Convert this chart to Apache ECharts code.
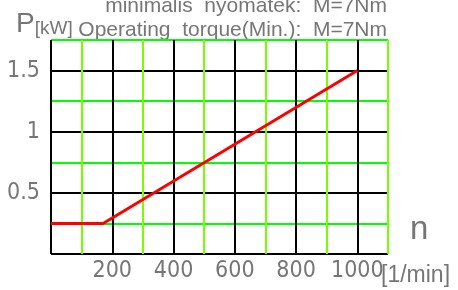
<!DOCTYPE html>
<html><head><meta charset="utf-8">
<script src="https://cdn.jsdelivr.net/npm/echarts@6/dist/echarts.min.js"></script>
<style>html,body{margin:0;padding:0;background:#fff}#c{width:458px;height:290px}</style>
</head><body><div id="c"></div>
<script>
const speedN = [0, 170, 1000];
const powerKW = [0.25, 0.25, 1.5];
const xTickLabels = [200, 400, 600, 800, 1000];
const yTickLabels = [0.5, 1, 1.5];
const titleLines = ['minimális  nyomaték:  M=7Nm', 'Operating  torque(Min.):  M=7Nm'];

const gray = '#767676';
const narrow = '"Liberation Sans Narrow", "DejaVu Sans Condensed", "Liberation Sans", sans-serif';
const chart = echarts.init(document.getElementById('c'));
chart.setOption({
  animation: false,
  backgroundColor: '#fff',
  grid: { left: 51, right: 70, top: 40, bottom: 36 },
  xAxis: {
    type: 'value', min: 0, max: 1100, interval: 100,
    axisLine: { show: false }, axisTick: { show: false },
    splitLine: { show: true, showMinLine: true, showMaxLine: true, lineStyle: { color: ['#000000', '#77ff00'], width: 2 } },
    axisLabel: {
      margin: 6, color: gray, fontSize: 23, fontFamily: narrow,
      formatter: v => xTickLabels.includes(v) ? String(v) : ''
    }
  },
  yAxis: {
    type: 'value', min: 0, max: 1.75, interval: 0.25,
    axisLine: { show: false }, axisTick: { show: false },
    splitLine: { show: true, showMinLine: true, showMaxLine: true, lineStyle: { color: ['#000000', '#00ff00'], width: 2 } },
    axisLabel: {
      margin: 11, color: gray, fontSize: 23, fontFamily: narrow,
      formatter: v => yTickLabels.some(t => Math.abs(t - v) < 1e-9) ? String(v) : ''
    }
  },
  series: [{
    type: 'line', symbol: 'none',
    data: speedN.map((n, i) => [n, powerKW[i]]),
    lineStyle: { color: '#ff0000', width: 3 },
    z: 5
  }],
  graphic: [
    { type: 'text', right: 71, top: -4, style: { text: titleLines[0], fill: gray, fontSize: 21, fontFamily: '"Liberation Sans", sans-serif' } },
    { type: 'text', right: 71, top: 20, style: { text: titleLines[1], fill: gray, fontSize: 21, fontFamily: '"Liberation Sans", sans-serif' } },
    { type: 'text', left: 16, top: 10, style: {
        text: '{p|P}{u|[kW]}', fill: gray,
        rich: { p: { fontSize: 28, fill: gray, fontFamily: '"Liberation Sans", sans-serif', verticalAlign: 'bottom' },
                u: { fontSize: 19, fill: gray, fontFamily: '"Liberation Sans", sans-serif', verticalAlign: 'bottom' } } } },
    { type: 'text', left: 410, top: 213, style: { text: 'n', fill: gray, fontSize: 33, fontFamily: '"Liberation Sans", sans-serif' } },
    { type: 'text', left: 381, top: 264, style: { text: '[1/min]', fill: gray, fontSize: 23, fontFamily: '"Liberation Sans", sans-serif' } }
  ]
});
</script></body></html>
